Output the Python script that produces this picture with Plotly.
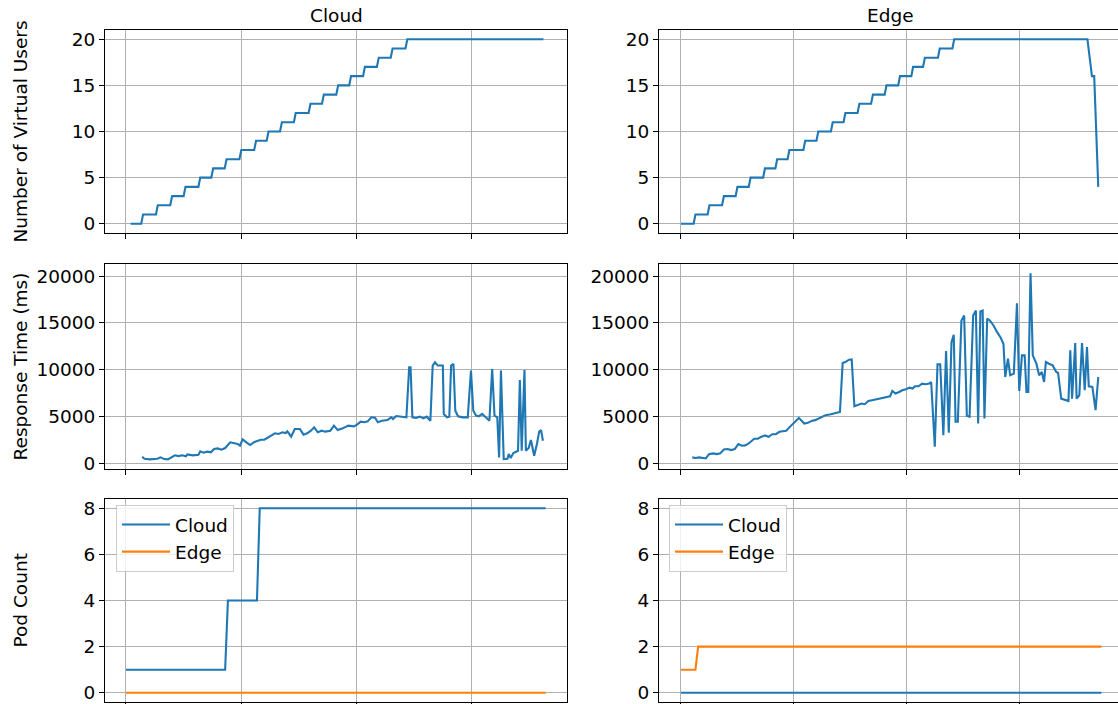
import plotly.graph_objects as go
from plotly.subplots import make_subplots

# ---------------- data (time in seconds) ----------------
cloud_vu_t = [10, 33, 37, 65, 69, 96, 100, 125, 129, 157, 161, 185, 189, 214, 218, 246, 250,
              278, 282, 305, 309, 334, 338, 364, 368, 396, 400, 425, 429, 456, 460, 484, 488,
              514, 518, 544, 548, 574, 578, 606, 610, 905]
cloud_vu = [0, 0, 1, 1, 2, 2, 3, 3, 4, 4, 5, 5, 6, 6, 7, 7, 8, 8, 9, 9, 10, 10, 11, 11, 12, 12,
            13, 13, 14, 14, 15, 15, 16, 16, 17, 17, 18, 18, 19, 19, 20, 20]

edge_vu_t = [0, 28, 32, 59, 63, 91, 95, 121, 125, 150, 154, 182, 186, 209, 213, 236, 240,
             271, 275, 300, 304, 332, 336, 360, 364, 391, 395, 421, 425, 451, 455, 481, 485,
             510, 514, 536, 540, 569, 573, 601, 605, 900, 910, 915, 924]
edge_vu = [0, 0, 1, 1, 2, 2, 3, 3, 4, 4, 5, 5, 6, 6, 7, 7, 8, 8, 9, 9, 10, 10, 11, 11, 12, 12,
           13, 13, 14, 14, 15, 15, 16, 16, 17, 17, 18, 18, 19, 19, 20, 20, 16, 16, 4]

cloud_rt_t = [35, 40, 52, 68, 75, 83, 91, 99, 106, 114, 122, 130, 133, 145, 157, 161, 168, 176,
              184, 191, 199, 207, 215, 226, 234, 242, 247, 253, 261, 269, 277, 284, 292, 300,
              308, 315, 323, 331, 339, 346, 350, 358, 366, 377, 385, 393, 401, 408, 416, 424,
              432, 443, 451, 459, 470, 482, 494, 501, 509, 517, 524, 532, 540, 546, 555, 567,
              575, 579, 586, 598, 608, 614, 617, 621, 629, 637, 645, 652, 660, 665, 670, 676,
              681, 687, 689, 696, 701, 705, 710, 714, 720, 730, 741, 748, 753, 759, 765, 772,
              780, 788, 794, 799, 805, 809, 813, 819, 827, 830, 834, 840, 850, 854, 858, 864,
              867, 873, 878, 885, 891, 896, 900, 904]
cloud_rt = [710, 500, 430, 500, 640, 460, 430, 710, 860, 780, 860, 750, 960, 860, 930, 1280,
            1140, 1250, 1180, 1530, 1600, 1460, 1640, 2250, 2140, 2070, 1890, 2570, 2250, 1960,
            2250, 2350, 2530, 2530, 2780, 2960, 3210, 3140, 3320, 3240, 3420, 2850, 3670, 3670,
            3070, 3210, 3490, 3850, 3320, 3490, 3390, 3490, 4030, 3560, 3740, 4030, 3960, 4140,
            4460, 4390, 4490, 4920, 4880, 4390, 4560, 4630, 4920, 4740, 5060, 4990, 4920, 10270,
            10270, 4920, 4850, 4990, 4810, 4990, 4560, 10450, 10800, 10450, 10450, 10450, 5280,
            4920, 4990, 10450, 10620, 5630, 5030, 4920, 4920, 9910, 5630, 5100, 5030, 5280,
            4920, 4560, 10090, 5100, 4920, 640, 9910, 460, 500, 1000, 570, 1110, 1350, 8910,
            1350, 9980, 1350, 1640, 2500, 820, 2070, 3390, 3560, 2420]

edge_rt_t = [25, 32, 40, 48, 55, 62, 71, 79, 87, 95, 103, 111, 119, 127, 135, 142, 150, 162,
             170, 178, 186, 194, 202, 210, 218, 225, 233, 241, 249, 261, 273, 281, 289, 297,
             305, 312, 320, 332, 344, 352, 358, 364, 372, 378, 384, 392, 400, 407, 415, 423,
             431, 439, 447, 455, 463, 468, 475, 483, 490, 498, 506, 513, 518, 526, 534, 542,
             550, 554, 562, 568, 574, 581, 587, 593, 599, 604, 608, 613, 621, 627, 633, 639,
             647, 653, 658, 663, 668, 672, 678, 684, 692, 700, 708, 714, 718, 724, 729, 737,
             744, 749, 755, 761, 765, 769, 774, 779, 787, 793, 799, 804, 808, 815, 823, 831,
             835, 842, 850, 858, 862, 866, 873, 876, 882, 888, 894, 899, 903, 911, 918, 924]
edge_rt = [640, 570, 640, 570, 530, 990, 1070, 990, 1070, 1490, 1530, 1420, 1530, 2060, 1880,
           1920, 2130, 2630, 2630, 2840, 2980, 2840, 3120, 3120, 3370, 3440, 3480, 3900, 4260,
           4860, 4260, 4330, 4540, 4620, 4790, 4970, 5150, 5250, 5400, 5500, 10720, 10830,
           11080, 11110, 6110, 6210, 6390, 6320, 6670, 6750, 6820, 6920, 7030, 7100, 7170, 7740,
           7460, 7630, 7810, 7920, 8090, 7990, 8240, 8240, 8520, 8450, 8520, 8700, 1780, 10580,
           10580, 3020, 12000, 3270, 12960, 13740, 4440, 4440, 15270, 15800, 5080, 4970, 15800,
           16330, 4260, 16220, 16330, 4790, 15450, 15270, 14730, 14020, 13420, 12780, 9230,
           11180, 9410, 9590, 17110, 7740, 11540, 11540, 7630, 7630, 20310, 11540, 10650, 9410,
           9760, 8700, 10830, 10650, 10470, 9760, 9660, 6920, 6820, 6670, 12070, 6920, 12850,
           6920, 7280, 12850, 7810, 12430, 8240, 8170, 5680, 9230]

left_pods_t = [0, 215, 221, 284, 290, 910]
left_pods_cloud = [1, 1, 4, 4, 8, 8]
left_pods_edge_t = [0, 910]
left_pods_edge = [0, 0]

right_pods_cloud_t = [0, 931]
right_pods_cloud = [0, 0]
right_pods_edge_t = [0, 32, 38, 931]
right_pods_edge = [1, 1, 2, 2]

col_titles = ["Cloud", "Edge"]
row_titles = ["Number of Virtual Users", "Response Time (ms)", "Pod Count"]
x_ticks = [0, 250, 500, 750]
y_ticks = [[0, 5, 10, 15, 20], [0, 5000, 10000, 15000, 20000], [0, 2, 4, 6, 8]]

# ---------------- figure ----------------
W, H = 1118, 704
BLUE = "#1f77b4"
ORANGE = "#ff7f0e"
FONT = "DejaVu Sans"
FS = 18.5

fig = make_subplots(rows=3, cols=2)

def line(x, y, color, name=None, show=False, legend="legend"):
    return go.Scatter(x=x, y=y, mode="lines", line=dict(color=color, width=2.1),
                      name=name, showlegend=show, legend=legend, hoverinfo="skip")

fig.add_trace(line(cloud_vu_t, cloud_vu, BLUE), row=1, col=1)
fig.add_trace(line(edge_vu_t, edge_vu, BLUE), row=1, col=2)
fig.add_trace(line(cloud_rt_t, cloud_rt, BLUE), row=2, col=1)
fig.add_trace(line(edge_rt_t, edge_rt, BLUE), row=2, col=2)
fig.add_trace(line(left_pods_t, left_pods_cloud, BLUE, "Cloud", True, "legend"), row=3, col=1)
fig.add_trace(line(left_pods_edge_t, left_pods_edge, ORANGE, "Edge", True, "legend"), row=3, col=1)
fig.add_trace(line(right_pods_cloud_t, right_pods_cloud, BLUE, "Cloud", True, "legend2"), row=3, col=2)
fig.add_trace(line(right_pods_edge_t, right_pods_edge, ORANGE, "Edge", True, "legend2"), row=3, col=2)

# pixel layout
col_px = [(105, 567), (659, 1118)]
row_px = [(30, 233), (264, 469), (499, 702)]
x_ranges = [[-45.5, 956.2], [-48.7, 967.7]]
y_ranges = [[-1, 21], [-600, 21300], [-0.4, 8.4]]

for r in range(3):
    for c in range(2):
        idx = r * 2 + c + 1
        xa = "xaxis" if idx == 1 else f"xaxis{idx}"
        ya = "yaxis" if idx == 1 else f"yaxis{idx}"
        x0, x1 = col_px[c]
        y0, y1 = row_px[r]
        fig.layout[xa].update(
            domain=[x0 / W, x1 / W], range=x_ranges[c], tickvals=x_ticks,
            showticklabels=False, ticks="outside", ticklen=5, tickwidth=1, tickcolor="#000",
            showgrid=True, gridcolor="#b0b0b0", gridwidth=1, zeroline=False, automargin=False,
            showline=True, linecolor="#000", linewidth=1, mirror=True)
        fig.layout[ya].update(
            domain=[1 - y1 / H, 1 - y0 / H], range=y_ranges[r], tickvals=y_ticks[r],
            ticktext=[str(v) for v in y_ticks[r]],
            ticks="outside", ticklen=5, tickwidth=1, tickcolor="#000",
            tickfont=dict(family=FONT, size=FS, color="#000"), automargin=False,
            showgrid=True, gridcolor="#b0b0b0", gridwidth=1, zeroline=False,
            showline=True, linecolor="#000", linewidth=1, mirror=(c == 0))

annotations = []
for c, t in enumerate(col_titles):
    cx = (col_px[c][0] + (col_px[c][1] if c == 0 else 1121)) / 2
    annotations.append(dict(text=t, x=cx / W, y=1 - 16 / H, xref="paper", yref="paper",
                            showarrow=False, xanchor="center", yanchor="middle",
                            font=dict(family=FONT, size=FS, color="#000")))
for r, t in enumerate(row_titles):
    cy = (row_px[r][0] + row_px[r][1]) / 2
    annotations.append(dict(text=t, x=20 / W, y=1 - cy / H, xref="paper", yref="paper",
                            showarrow=False, xanchor="center", yanchor="middle", textangle=-90,
                            font=dict(family=FONT, size=FS, color="#000")))

legend_style = dict(xanchor="left", yanchor="top", bgcolor="rgba(255,255,255,0.8)",
                    bordercolor="#cccccc", borderwidth=1, itemwidth=48,
                    font=dict(family=FONT, size=FS, color="#000"), tracegroupgap=0)

fig.update_layout(
    width=W, height=H, margin=dict(l=0, r=0, t=0, b=0, autoexpand=False),
    paper_bgcolor="white", plot_bgcolor="white",
    font=dict(family=FONT, size=FS, color="#000"),
    annotations=annotations,
    legend=dict(x=116 / W, y=1 - 505 / H, **legend_style),
    legend2=dict(x=669 / W, y=1 - 505 / H, **legend_style),
)

fig.write_html("out.html", config={"displayModeBar": False},
               post_script="document.body.style.margin='0';document.body.style.padding='0';"
                           "document.body.style.overflow='hidden';")
